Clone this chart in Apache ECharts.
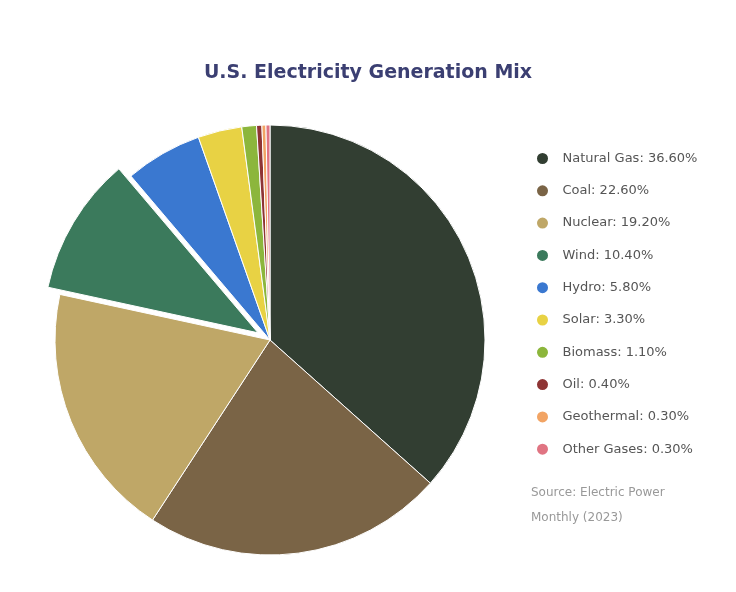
<!DOCTYPE html>
<html>
<head>
<meta charset="utf-8">
<title>U.S. Electricity Generation Mix</title>
<script src="https://cdn.jsdelivr.net/npm/echarts@6/dist/echarts.min.js"></script>
<style>
  html, body { margin: 0; padding: 0; background: #ffffff; }
  #chart { width: 736px; height: 592px; }
</style>
</head>
<body>
<div id="chart"></div>
<script>
// Share of U.S. electricity generation by source (percent)
const sources = ['Natural Gas', 'Coal', 'Nuclear', 'Wind', 'Hydro', 'Solar', 'Biomass', 'Oil', 'Geothermal', 'Other Gases'];
const shares = [36.6, 22.6, 19.2, 10.4, 5.8, 3.3, 1.1, 0.4, 0.3, 0.3];
const colors = ['#323e32', '#7a6446', '#bfa767', '#3b7a5c', '#3a78d0', '#e8d244', '#8cb63c', '#8e3434', '#f2a464', '#e07482'];
const highlighted = 'Wind';
const noteLines = ['Source: Electric Power', 'Monthly (2023)'];

const total = shares.reduce((a, b) => a + b, 0);
const pct = {};
sources.forEach((s, i) => { pct[s] = (shares[i] / total * 100).toFixed(2); });

const FONT = '"DejaVu Sans", sans-serif';

const chart = echarts.init(document.getElementById('chart'), null, { renderer: 'canvas' });
chart.setOption({
  animation: false,
  backgroundColor: '#ffffff',
  color: colors,
  title: {
    text: 'U.S. Electricity Generation Mix',
    left: 'center',
    top: 59,
    textStyle: { fontFamily: FONT, fontSize: 19, fontWeight: 'bold', color: '#3b3f72' }
  },
  legend: {
    orient: 'vertical',
    left: 530,
    top: 146,
    icon: 'circle',
    itemWidth: 30,
    itemHeight: 13,
    itemGap: 17.3,
    data: sources,
    formatter: name => name + ': ' + pct[name] + '%',
    textStyle: { fontFamily: FONT, fontSize: 13, color: '#555555' }
  },
  graphic: noteLines.map((t, i) => ({
    type: 'text',
    left: 531,
    top: 487 + i * 25,
    style: { text: t, fill: '#999999', font: '12px ' + FONT }
  })),
  series: [{
    type: 'pie',
    center: [270, 340],
    radius: [0, 215],
    startAngle: 90,
    clockwise: true,
    selectedMode: 'single',
    selectedOffset: 14,
    label: { show: false },
    labelLine: { show: false },
    itemStyle: { borderColor: '#ffffff', borderWidth: 1 },
    data: sources.map((s, i) => ({ name: s, value: shares[i], selected: s === highlighted }))
  }]
});
</script>
</body>
</html>
